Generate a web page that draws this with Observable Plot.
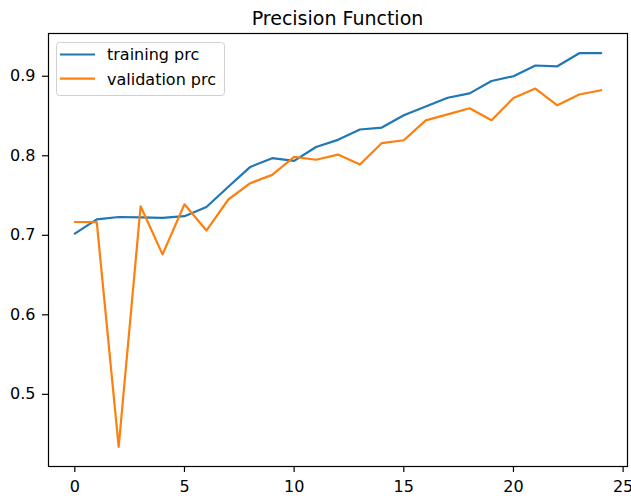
<!DOCTYPE html>
<html>
<head>
<meta charset="utf-8">
<script src="https://cdn.jsdelivr.net/npm/d3@7"></script>
<script src="https://cdn.jsdelivr.net/npm/@observablehq/plot@0.6"></script>
<style>
  html, body { margin: 0; padding: 0; background: #fff; }
  svg { font-family: "DejaVu Sans", sans-serif; }
</style>
</head>
<body>
<div id="chart"></div>
<script>
const title = "Precision Function";
const epochs = d3.range(0, 25);
const trainingPrc = [0.702, 0.720, 0.723, 0.7225, 0.722, 0.724, 0.7355, 0.761, 0.786, 0.797, 0.7935,
  0.811, 0.820, 0.833, 0.8355, 0.851, 0.862, 0.873, 0.8785, 0.894, 0.900, 0.9135, 0.9125, 0.929, 0.929];
const validationPrc = [0.7167, 0.7165, 0.434, 0.7365, 0.676, 0.739, 0.706, 0.745, 0.7655, 0.776, 0.7985,
  0.795, 0.8015, 0.789, 0.816, 0.8195, 0.8445, 0.852, 0.8597, 0.8447, 0.8727, 0.8845, 0.8635, 0.877, 0.8824];
const seriesNames = ["training prc", "validation prc"];
const seriesColors = ["#1f77b4", "#ff7f0e"];
const xTicks = [0, 5, 10, 15, 20, 25];
const yTicks = [0.5, 0.6, 0.7, 0.8, 0.9];

const rows = [
  ...epochs.map((e, i) => ({epoch: e, value: trainingPrc[i], series: seriesNames[0]})),
  ...epochs.map((e, i) => ({epoch: e, value: validationPrc[i], series: seriesNames[1]}))
];

const allVals = trainingPrc.concat(validationPrc);
const ymin = d3.min(allVals), ymax = d3.max(allVals);
const ypad = (ymax - ymin) * 0.05;
const xpad = (d3.max(epochs) - d3.min(epochs)) * 0.05;

const chart = Plot.plot({
  width: 631,
  height: 496,
  marginLeft: 48,
  marginTop: 33,
  marginRight: 4,
  marginBottom: 30,
  style: {fontFamily: "DejaVu Sans, sans-serif", fontSize: "16px", color: "#000", background: "#fff"},
  x: {domain: [d3.min(epochs) - xpad, d3.max(epochs) + xpad]},
  y: {domain: [ymin - ypad, ymax + ypad]},
  color: {domain: seriesNames, range: seriesColors},
  marks: [
    Plot.line(rows, {x: "epoch", y: "value", stroke: "series", strokeWidth: 2.2, curve: "linear"}),
    Plot.frame({stroke: "#000", strokeWidth: 1.2}),
    Plot.axisX({ticks: xTicks, tickSize: 6, tickPadding: 8, fontSize: 16, label: null, tickFormat: d3.format("d"), strokeWidth: 1.2}),
    Plot.axisY({ticks: yTicks, tickSize: 6, tickPadding: 7, fontSize: 16, label: null, tickFormat: d3.format(".1f"), strokeWidth: 1.2})
  ]
});

document.getElementById("chart").appendChild(chart);

const svg = d3.select(chart);
// Title
svg.append("text")
  .attr("x", (48 + 627) / 2)
  .attr("y", 25)
  .attr("text-anchor", "middle")
  .attr("font-size", 19)
  .attr("fill", "#000")
  .text(title);

// Legend
const lg = svg.append("g").attr("text-anchor", "start");
lg.append("rect")
  .attr("x", 56.5).attr("y", 42.5).attr("width", 168).attr("height", 53)
  .attr("rx", 3).attr("fill", "#fff").attr("fill-opacity", 0.8)
  .attr("stroke", "#d0d0d0").attr("stroke-width", 1);
seriesNames.forEach((name, i) => {
  const y = 54.5 + i * 24.2;
  lg.append("line").attr("x1", 60).attr("x2", 95).attr("y1", y).attr("y2", y)
    .attr("stroke", seriesColors[i]).attr("stroke-width", 2.2);
  lg.append("text").attr("x", 107).attr("y", y + 5.8)
    .attr("text-anchor", "start")
    .attr("font-size", 16).attr("fill", "#000").text(name);
});
</script>
</body>
</html>
